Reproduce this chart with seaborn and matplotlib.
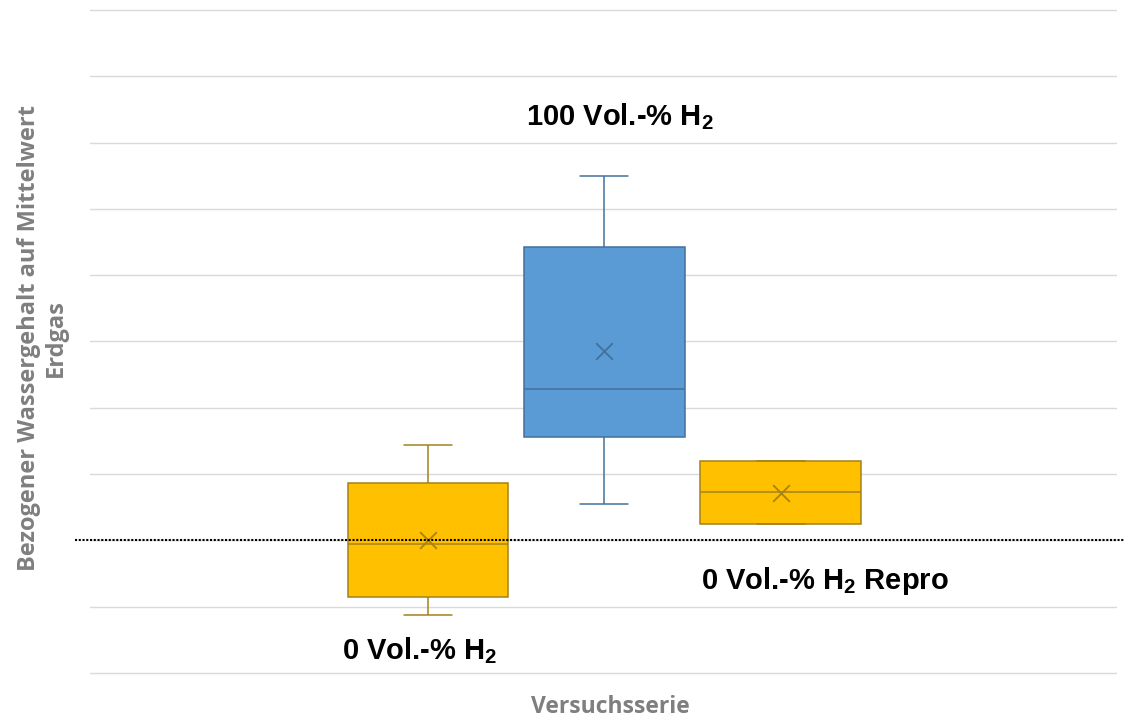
import numpy as np
import pandas as pd
import matplotlib
matplotlib.use("Agg")
import matplotlib.pyplot as plt
import seaborn as sns

# ---- data (relative water content, normalised to mean of natural gas = 1) ----
categories = ["0 Vol.-% H2", "100 Vol.-% H2", "0 Vol.-% H2 Repro"]
whisker_low = [0.887, 1.055, 1.025]
q1 = [0.914, 1.156, 1.025]
median = [0.995, 1.228, 1.073]
q3 = [1.087, 1.442, 1.120]
whisker_high = [1.144, 1.549, 1.120]
means = [1.000, 1.285, 1.071]
label_texts = ["0 Vol.-% H$_2$", "100 Vol.-% H$_2$", "0 Vol.-% H$_2$ Repro"]
baseline = 1.0

face_colors = {"0 Vol.-% H2": "#FFC000", "100 Vol.-% H2": "#5B9BD5", "0 Vol.-% H2 Repro": "#FFC000"}
edge_colors = {"0 Vol.-% H2": "#A3821A", "100 Vol.-% H2": "#41719C", "0 Vol.-% H2 Repro": "#A3821A"}

rows = []
for c, a, b, m, d, e in zip(categories, whisker_low, q1, median, q3, whisker_high):
    for v in (a, b, m, d, e):
        rows.append({"serie": c, "wert": v})
df = pd.DataFrame(rows)

sns.set_theme(style="white")
plt.rcParams["font.family"] = ["Liberation Sans", "DejaVu Sans"]
plt.rcParams["mathtext.fontset"] = "custom"
plt.rcParams["mathtext.rm"] = "Liberation Sans:bold"
plt.rcParams["mathtext.bf"] = "Liberation Sans:bold"
plt.rcParams["mathtext.it"] = "Liberation Sans:bold"

fig = plt.figure(figsize=(11.37, 7.18), dpi=100)
ax = fig.add_axes([0.0792, 0.0535, 0.9032, 0.9419])

for cat in categories:
    sub = df[df["serie"] == cat]
    sns.boxplot(data=sub, x="serie", y="wert", order=categories,
                width=0.912, color=face_colors[cat], linecolor=edge_colors[cat],
                linewidth=1.1, saturation=1, showfliers=False, whis=1.5,
                capwidths=0.272, ax=ax)

sns.stripplot(x=categories, y=means, order=categories, hue=categories,
              palette=edge_colors, marker="x", size=12, linewidth=1.3,
              jitter=False, legend=False, ax=ax, zorder=5)

ax.set_xlim(-1.915, 3.904)
ax.set_ylim(0.79, 1.81)
ax.set_yticks(np.arange(0.8, 1.81, 0.1))
ax.set_yticklabels([])
ax.set_xticks([])
ax.tick_params(length=0)
ax.yaxis.grid(True, color="#D9D9D9", lw=1.0)
ax.set_axisbelow(True)
for s in ax.spines.values():
    s.set_visible(False)

ax.axhline(baseline, xmin=-0.0146, xmax=1.0078, color="black", lw=1.5,
           ls=(0, (1, 0.8)), clip_on=False, zorder=6)

# category labels
label_pos = [(-0.045, 0.821), (1.085, 1.6265), (2.25, 0.9267)]
for t, (x, y) in zip(label_texts, label_pos):
    ax.text(x, y, t, ha="center", va="baseline", fontsize=21,
            fontweight="bold", color="black", zorder=7)

lab_font = dict(family=["Open Sans", "DejaVu Sans"], fontweight="bold", color="#7F7F7F")
ax.set_ylabel("Bezogener Wassergehalt auf Mittelwert\nErdgas", fontsize=17,
              multialignment="center", linespacing=1.15, **lab_font)
ax.yaxis.label.set_va("center")
ax.yaxis.set_label_coords(-0.0467, 0.505)
ax.set_xlabel("Versuchsserie", fontsize=16.5, **lab_font)
ax.xaxis.label.set_va("center")
ax.xaxis.set_label_coords(0.507, -0.0405)

fig.savefig("out.png", dpi=100)
